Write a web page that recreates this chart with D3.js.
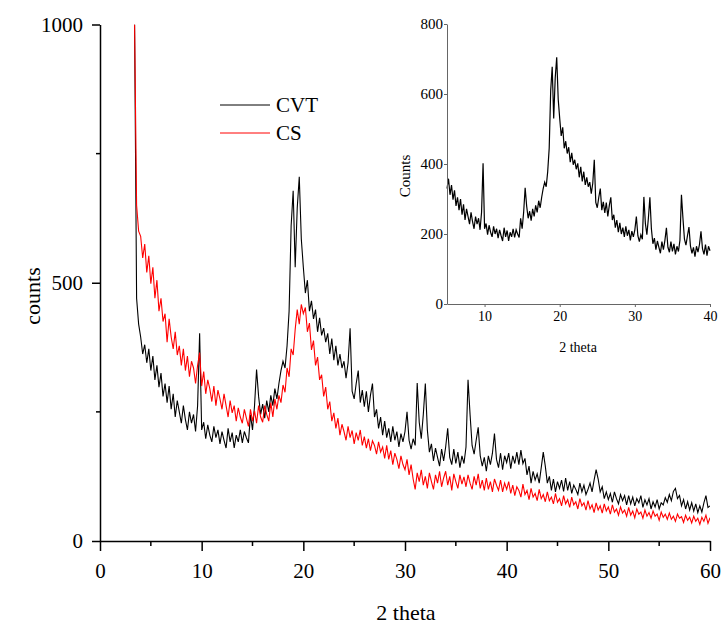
<!DOCTYPE html>
<html>
<head>
<meta charset="utf-8">
<script src="https://cdn.jsdelivr.net/npm/d3@7"></script>
<style>
  body { margin: 0; background: #fff; }
  svg { display: block; }
  text { font-family: "Liberation Serif", "Times New Roman", serif; fill: #000; }
</style>
</head>
<body>
<script>
const w = 722,
  h = 624;

// 2 theta grid: 3.4 .. 60.0, step 0.2
const thetaStart = 3.4,
  thetaStep = 0.2;

// CVT counts: 3.4, 3.6, 3.8, then rows of 10 starting at 4.0, 6.0, 8.0 ...
const cvt = [
  1000, 470, 420,
  395, 362, 380, 345, 372, 330, 358, 312, 340, 298,
  325, 280, 305, 268, 300, 255, 285, 240, 272, 250,
  228, 262, 235, 215, 250, 228, 245, 212, 262, 402,
  215, 230, 198, 225, 205, 192, 222, 200, 215, 188,
  212, 195, 180, 218, 192, 210, 180, 205, 192, 215,
  190, 212, 200, 190, 245, 215, 262, 332, 280, 245,
  265, 238, 272, 250, 282, 262, 295, 275, 305, 330,
  348, 335, 378, 445, 610, 678, 530, 645, 705, 585,
  530, 480, 505, 445, 465, 430, 448, 405, 432, 398,
  412, 385, 402, 362, 392, 350, 378, 340, 362, 335,
  348, 315, 345, 412, 290, 275, 305, 330, 268, 292,
  260, 290, 250, 282, 305, 240, 255, 218, 240, 205,
  232, 200, 218, 192, 222, 195, 212, 182, 208, 192,
  212, 250, 195, 178, 198, 185, 306, 230, 198, 245,
  305, 215, 172, 188, 155, 180, 162, 145, 178, 155,
  182, 218, 162, 148, 178, 150, 172, 142, 165, 150,
  182, 312, 245, 185, 168, 195, 220, 165, 145, 162,
  135, 165, 148, 170, 208, 158, 142, 170, 138, 165,
  152, 170, 140, 165, 150, 172, 148, 176, 150, 160,
  128, 145, 112, 135, 118, 130, 112, 142, 172, 145,
  112, 125, 98, 120, 95, 115, 102, 118, 96, 122,
  98, 115, 92, 108, 100, 90, 112, 95, 108, 90,
  100, 112, 95, 118, 138, 120, 95, 105, 82, 95,
  80, 92, 75, 95, 82, 72, 90, 78, 88, 70,
  88, 72, 85, 68, 82, 74, 88, 65, 80, 70,
  82, 62, 76, 66, 80, 62, 74, 70, 84, 75,
  90, 78, 96, 102, 82, 88, 68, 80, 62, 76,
  60, 74, 58, 72, 55, 68, 56, 74, 88, 65,
  68
];

// CS counts, same grid
const cs = [
  1000, 650, 600,
  590, 548, 575, 520, 552, 498, 530, 470, 505, 445,
  470, 425, 440, 385, 430, 395, 372, 405, 360, 378,
  340, 372, 330, 358, 318, 348, 335, 305, 340, 365,
  300, 328, 285, 312, 295, 270, 300, 262, 292, 275,
  255, 285, 262, 240, 272, 248, 262, 232, 258, 240,
  228, 255, 238, 222, 255, 232, 252, 228, 262, 240,
  230, 262, 245, 232, 268, 240, 275, 255, 282, 268,
  302, 288, 335, 318, 372, 360, 410, 448, 420, 458,
  440, 452, 405, 422, 370, 388, 340, 356, 312, 322,
  280, 298, 255, 270, 232, 248, 218, 238, 205, 226,
  212, 195, 222, 200, 214, 188, 210, 195, 215, 185,
  202, 180, 198, 175, 194, 185, 168, 192, 172, 182,
  160, 185, 158, 175, 148, 170, 158, 140, 165, 148,
  138, 158, 128, 148, 120, 100, 132, 115, 138, 108,
  125, 102, 132, 115, 100, 128, 112, 135, 105, 122,
  135, 108, 125, 98, 130, 115, 102, 128, 110, 124,
  105, 128, 112, 100, 125, 108, 130, 102, 118, 98,
  122, 100, 115, 95, 120, 108, 98, 118, 95, 112,
  100, 115, 92, 108, 88, 105, 98, 85, 110, 90,
  98, 80, 102, 85, 92, 78, 100, 82, 90, 76,
  95, 78, 85, 72, 92, 75, 82, 68, 88, 72,
  80, 65, 85, 70, 76, 62, 82, 68, 74, 60,
  78, 62, 70, 55, 74, 60, 68, 54, 72, 58,
  66, 52, 70, 56, 62, 50, 66, 54, 60, 48,
  65, 50, 58, 45, 62, 52, 56, 44, 60, 48,
  55, 44, 58, 48, 52, 40, 56, 46, 52, 42,
  54, 42, 48, 38, 52, 44, 47, 36, 50, 40,
  46, 35, 48, 38, 44, 32, 46, 38, 50, 34,
  45
];

const xTicks = [0, 10, 20, 30, 40, 50, 60],
  xMinor = [5, 15, 25, 35, 45, 55],
  yTicks = [0, 500, 1000],
  yMinor = [250, 750];

const insetXTicks = [10, 20, 30, 40],
  insetYTicks = [0, 200, 400, 600, 800];

const series = [
  { name: 'CVT', color: '#000', values: cvt },
  { name: 'CS', color: '#ff0000', values: cs }
];

const toPoints = vals => vals.map((v, i) => [+(thetaStart + i * thetaStep).toFixed(2), v]);

const svg = d3.select('body')
  .append('svg')
  .attr('width', w)
  .attr('height', h);

// main plot
const xScale = d3.scaleLinear().domain([0, 60]).range([100, 710]);
const yScale = d3.scaleLinear().domain([0, 1000]).range([541, 24.5]);

svg.append('clipPath')
  .attr('id', 'clip')
  .append('rect')
  .attr('x', 100).attr('y', 24.5)
  .attr('width', 610).attr('height', 516.5);

const line = d3.line()
  .x(d => xScale(d[0]))
  .y(d => yScale(d[1]));

svg.append('g')
  .attr('clip-path', 'url(#clip)')
  .selectAll('path')
  .data(series)
  .enter()
  .append('path')
  .attr('d', d => line(toPoints(d.values)))
  .attr('fill', 'none')
  .attr('stroke', d => d.color)
  .attr('stroke-width', 1.1);

const xAxis = d3.axisBottom(xScale)
  .tickValues(xTicks)
  .tickFormat(d3.format('d'))
  .tickSize(10)
  .tickSizeOuter(0)
  .tickPadding(12);

const yAxis = d3.axisLeft(yScale)
  .tickValues(yTicks)
  .tickFormat(d3.format('d'))
  .tickSize(8)
  .tickSizeOuter(0)
  .tickPadding(9);

const gx = svg.append('g')
  .classed('x axis', true)
  .attr('transform', 'translate(0, 541)')
  .call(xAxis);

gx.selectAll('.minor')
  .data(xMinor)
  .enter()
  .append('line')
  .attr('x1', d => xScale(d)).attr('x2', d => xScale(d))
  .attr('y1', 0).attr('y2', 5)
  .attr('stroke', '#000').attr('stroke-width', 1.5);

const gy = svg.append('g')
  .classed('y axis', true)
  .attr('transform', 'translate(100, 0)')
  .call(yAxis);

gy.selectAll('.minor')
  .data(yMinor)
  .enter()
  .append('line')
  .attr('y1', d => yScale(d)).attr('y2', d => yScale(d))
  .attr('x1', 0).attr('x2', -4)
  .attr('stroke', '#000').attr('stroke-width', 1.5);

svg.selectAll('.axis path, .axis line')
  .attr('stroke', '#000')
  .attr('stroke-width', 1.5);

svg.selectAll('.axis text')
  .attr('font-family', '"Liberation Serif", serif')
  .attr('font-size', 21)
  .attr('fill', '#000');

svg.append('text')
  .attr('x', 406)
  .attr('y', 620)
  .attr('text-anchor', 'middle')
  .attr('font-size', 22)
  .text('2 theta');

svg.append('text')
  .attr('transform', 'translate(40, 296) rotate(-90)')
  .attr('text-anchor', 'middle')
  .attr('font-size', 22)
  .text('counts');

// legend
const legend = svg.append('g')
  .selectAll('g')
  .data(series)
  .enter()
  .append('g')
  .attr('transform', (d, i) => `translate(220, ${105 + i * 28})`);

legend.append('line')
  .attr('x1', 0).attr('x2', 50)
  .attr('stroke', d => d.color)
  .attr('stroke-width', 1);

legend.append('text')
  .attr('x', 56)
  .attr('y', 7)
  .attr('font-size', 21)
  .text(d => d.name);

// inset: CVT from 5 to 40
const ix = d3.scaleLinear().domain([5, 40]).range([447, 710]);
const iy = d3.scaleLinear().domain([0, 800]).range([304, 24]);

const insetLine = d3.line()
  .x(d => ix(d[0]))
  .y(d => iy(d[1]));

svg.append('path')
  .attr('d', insetLine(toPoints(cvt).filter(d => d[0] >= 5 && d[0] <= 40)))
  .attr('fill', 'none')
  .attr('stroke', '#000')
  .attr('stroke-width', 1.2);

const ixAxis = d3.axisBottom(ix)
  .tickValues(insetXTicks)
  .tickSize(3)
  .tickSizeOuter(0)
  .tickPadding(4);

const iyAxis = d3.axisLeft(iy)
  .tickValues(insetYTicks)
  .tickSize(3)
  .tickSizeOuter(0)
  .tickPadding(1);

const igx = svg.append('g')
  .classed('inset', true)
  .attr('transform', 'translate(0, 304)')
  .call(ixAxis);

const igy = svg.append('g')
  .classed('inset', true)
  .attr('transform', 'translate(447, 0)')
  .call(iyAxis);

svg.selectAll('.inset path, .inset line')
  .attr('stroke', '#666')
  .attr('stroke-width', 1);

igx.selectAll('text')
  .attr('font-family', '"Liberation Serif", serif')
  .attr('font-size', 14)
  .attr('fill', '#000');

igy.selectAll('text')
  .attr('font-family', '"Liberation Sans", Arial, sans-serif')
  .attr('font-size', 15)
  .attr('fill', '#000');

svg.append('text')
  .attr('x', 578)
  .attr('y', 352)
  .attr('text-anchor', 'middle')
  .attr('font-size', 14)
  .text('2 theta');

svg.append('text')
  .attr('transform', 'translate(410, 176) rotate(-90)')
  .attr('text-anchor', 'middle')
  .attr('font-size', 15)
  .text('Counts');
</script>
</body>
</html>
